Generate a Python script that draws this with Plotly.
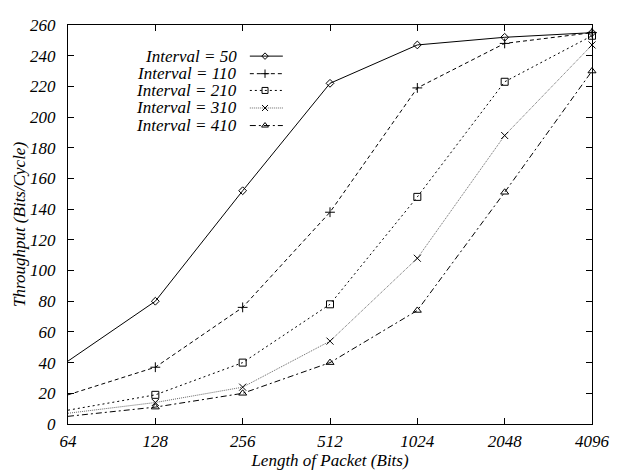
import plotly.graph_objects as go

packet_lengths = [64, 128, 256, 512, 1024, 2048, 4096]
tick_labels = ["64", "128", "256", "512", "1024", "2048", "4096"]
series_names = ["Interval = 50", "Interval = 110", "Interval = 210", "Interval = 310", "Interval = 410"]
thr_50 = [41, 80, 152, 222, 247, 252, 255]
thr_110 = [19, 37, 76, 138, 219, 248, 255]
thr_210 = [9, 19, 40, 78, 148, 223, 253]
thr_310 = [7, 14, 24, 54, 108, 188, 247]
thr_410 = [5, 11, 20, 40, 74, 151, 230]
y_ticks = list(range(0, 261, 20))

series = [thr_50, thr_110, thr_210, thr_310, thr_410]
dashes = ["solid", "4px,3px", "2px,3px", "1px,1px", "6px,3px,2px,3px"]
colors = ["black", "black", "black", "#666666", "black"]
symbols = ["diamond-open", "cross-thin-open", "square-open", "x-thin-open", "triangle-up-open"]
sizes = [6, 7, 7, 7, 7]

FONT = "Liberation Serif"
FS = 17
fig = go.Figure()

for name, vals, d, c, s, sz in zip(series_names, series, dashes, colors, symbols, sizes):
    fig.add_trace(go.Scatter(
        x=packet_lengths, y=vals, mode="lines+markers", name=name,
        line=dict(color=c, width=1, dash=d),
        marker=dict(symbol=s, size=sz, color="black", line=dict(color="black", width=1)),
        showlegend=False, cliponaxis=False,
    ))

# manual gnuplot-style key (text right, sample at right)
key_rows = [0.922, 0.878, 0.836, 0.792, 0.748]
for name, yk, d, c, s, sz in zip(series_names, key_rows, dashes, colors, symbols, sizes):
    fig.add_trace(go.Scatter(
        x=[0.347, 0.410], y=[yk, yk], xaxis="x2", yaxis="y2", mode="lines",
        line=dict(color=c, width=1, dash=d), showlegend=False, hoverinfo="skip",
    ))
    fig.add_trace(go.Scatter(
        x=[0.376], y=[yk], xaxis="x2", yaxis="y2", mode="markers",
        marker=dict(symbol=s, size=sz - 1, color="black", line=dict(color="black", width=1)),
        showlegend=False, hoverinfo="skip",
    ))
    fig.add_annotation(
        x=0.326, y=yk, xref="x2", yref="y2", text=name, showarrow=False,
        xanchor="right", yanchor="middle",
        font=dict(family=FONT, size=FS, color="black", style="italic"),
    )

axis_common = dict(
    showgrid=False, zeroline=False, showline=True, linecolor="black", linewidth=1,
    mirror="ticks", ticks="inside", ticklen=6, tickcolor="black", tickwidth=1,
    ticklabeloverflow="allow",
    tickfont=dict(family=FONT, size=FS, color="black", style="italic"),
)

# page body has an 8px default margin, so the figure is sized to fit 618x471 window
fig.update_layout(
    width=610, height=463,
    margin=dict(l=60, r=26, t=8, b=47),
    plot_bgcolor="white", paper_bgcolor="white",
    font=dict(family=FONT, color="black", style="italic"),
    xaxis=dict(
        type="log", range=[1.80618, 3.61236],
        tickvals=packet_lengths, ticktext=tick_labels, ticklabelstandoff=2,
        title=dict(text="Length of Packet (Bits)", font=dict(family=FONT, size=FS, style="italic"), standoff=0),
        **axis_common,
    ),
    yaxis=dict(
        range=[0, 260], tickvals=y_ticks, ticklabelstandoff=8,
        title=dict(text="Throughput (Bits/Cycle)", font=dict(family=FONT, size=FS, style="italic"), standoff=0),
        **axis_common,
    ),
    xaxis2=dict(overlaying="x", range=[0, 1], visible=False, fixedrange=True),
    yaxis2=dict(overlaying="y", range=[0, 1], visible=False, fixedrange=True),
)

fig.write_html("out.html")
